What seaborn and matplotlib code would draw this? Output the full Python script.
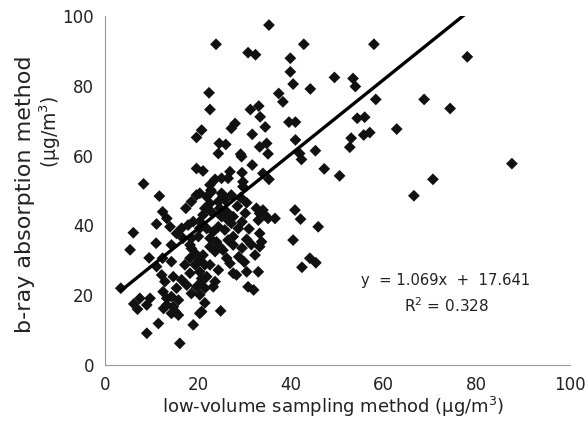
import matplotlib
matplotlib.use("Agg")
import matplotlib.pyplot as plt
import seaborn as sns
import numpy as np
import pandas as pd

# ---- data ----
low_volume = [
    35.3, 23.9, 42.8, 30.8, 32.4, 39.9, 39.9, 40.5, 44.2, 49.4, 53.4, 53.9, 22.4, 22.6, 37.4,
    38.3, 31.3, 33.1, 33.4, 34.5, 39.6, 41.0, 54.3, 55.9, 55.7, 57.0, 57.9, 78.0, 58.3, 68.7,
    74.3, 62.8, 28.0, 27.2, 20.8, 19.7, 31.7, 41.0, 45.3, 53.0, 52.7, 24.6, 26.0, 34.8, 33.3,
    29.2, 24.4, 47.2, 50.5, 70.6, 87.6, 66.5, 41.9, 42.3, 40.9, 42.1, 45.9, 40.5, 44.1, 45.4,
    42.4, 8.3, 11.7, 29.4, 31.7, 35.1, 29.5, 29.7, 34.0, 35.3, 26.9, 26.5, 25.1, 23.7, 22.8,
    19.7, 21.1, 19.7, 25.4, 27.2, 29.7,
    32.6, 34.0, 35.1, 36.6, 33.3, 33.0, 34.4, 33.3, 33.7, 22.6, 22.9, 21.9, 20.4, 25.1, 25.8,
    24.4, 22.6, 21.5, 22.9, 24.7, 26.2, 25.1, 26.5, 27.6, 21.1, 20.4, 21.9, 23.3, 24.4, 25.8,
    27.2, 28.7, 27.6, 26.5, 22.6, 24.0, 24.7, 22.6, 27.6,
    29.2, 30.5, 28.5, 30.2, 29.5, 31.0, 30.5, 29.5, 31.5, 28.8, 30.0,
    18.6, 17.4, 12.4, 13.3, 11.1, 6.1, 5.4, 11.0, 14.0, 15.4, 16.5, 17.9, 19.0, 20.4, 16.8,
    18.6, 20.1, 18.3, 14.3,
    9.5, 3.4, 12.4, 14.3, 11.1, 12.2, 6.2, 7.0, 9.0, 9.7, 7.5, 11.5, 9.0, 15.8, 15.1,
    16.1, 19.0, 20.4, 13.3, 14.7, 15.8, 14.3, 13.3, 12.5, 18.6, 17.6, 15.4, 16.5, 19.7, 20.8,
    20.4, 19.4, 18.3, 17.2, 14.7, 12.9, 18.3, 19.4, 18.6, 20.4, 21.1, 21.5, 20.8,
    21.5, 21.9, 20.8, 21.5, 20.4,
    23.7, 25.4, 26.2, 26.9, 24.4, 22.6, 23.7, 23.3, 27.6, 28.3, 30.5, 33.0, 32.3, 33.3, 30.8,
    32.0, 24.9, 14.3, 12.6,
]
beta_ray = [
    97.4, 91.9, 91.9, 89.5, 88.9, 87.9, 84.0, 80.5, 79.1, 82.4, 82.1, 79.8, 78.0, 73.2, 77.8,
    75.4, 73.2, 74.2, 71.1, 68.2, 69.6, 69.6, 70.7, 71.0, 65.9, 66.6, 91.9, 88.3, 76.1, 76.1,
    73.5, 67.6, 69.2, 67.8, 67.3, 65.2, 66.1, 64.5, 61.4, 65.0, 62.4, 63.5, 63.2, 63.5, 62.5,
    60.4, 60.6, 56.2, 54.2, 53.2, 57.7, 48.5, 60.6, 58.9, 44.4, 41.8, 39.6, 35.8, 30.6, 29.3,
    28.0, 51.9, 48.4, 59.7, 57.3, 60.5, 55.1, 52.5, 54.9, 53.2, 55.4, 53.5, 53.5, 53.2, 50.1,
    56.3, 55.6, 48.7, 48.4, 48.7, 51.1,
    44.9, 44.4, 42.0, 42.0, 43.4, 41.5, 43.0, 37.7, 35.3, 51.6, 49.6, 48.2, 49.2, 49.2, 47.3,
    46.8, 46.3, 44.9, 43.9, 44.9, 43.9, 42.5, 41.5, 42.5, 43.0, 41.1, 39.1, 38.2, 39.6, 38.7,
    40.6, 39.1, 36.8, 35.8, 36.3, 35.3, 33.9, 33.9, 34.4,
    48.0, 46.5, 45.5, 43.5, 41.0, 39.0, 36.0, 33.5, 34.5, 31.0, 29.5,
    46.8, 44.9, 43.9, 42.0, 40.4, 37.9, 33.0, 34.9, 39.6, 37.7, 39.2, 40.1, 41.1, 39.2, 36.3,
    36.3, 36.8, 34.4, 34.4,
    30.7, 22.0, 30.6, 29.6, 28.2, 25.8, 17.5, 16.0, 17.2, 19.1, 19.1, 11.9, 9.1, 14.3, 15.3,
    6.2, 11.5, 14.8, 17.2, 16.7, 18.6, 19.6, 19.1, 21.0, 20.5, 22.9, 22.0, 24.4, 22.4, 24.8,
    26.7, 28.7, 26.3, 28.7, 25.3, 23.9, 30.6, 32.0, 33.4, 30.1, 31.5, 17.8, 15.3,
    28.7, 25.3, 23.9, 22.0, 20.1,
    32.5, 32.9, 30.6, 29.1, 27.2, 28.7, 23.9, 22.4, 26.3, 25.8, 26.7, 26.7, 31.5, 33.9, 22.4,
    21.5, 15.5, 14.8, 16.2,
]
slope = 1.069
intercept = 17.641
r_squared = 0.328
axis_ticks = [0, 20, 40, 60, 80, 100]
x_label = "low-volume sampling method (µg/m$^3$)"
y_label_line1 = "b-ray absorption method"
y_label_line2 = "(µg/m$^3$)"

df = pd.DataFrame({"low": low_volume, "beta": beta_ray})
fit_x = [min(low_volume), max(low_volume)]
fit_df = pd.DataFrame({"low": fit_x, "beta": [slope * v + intercept for v in fit_x]})

sns.set_theme(style="white")
plt.rcParams["font.family"] = ["DejaVu Sans"]
plt.rcParams["mathtext.fontset"] = "dejavusans"

fig = plt.figure(figsize=(5.88, 4.36), dpi=100)
ax = fig.add_axes([105 / 588, 1 - 365 / 436, 464.5 / 588, 349 / 436])

sns.scatterplot(data=df, x="low", y="beta", marker="D", s=36, color="#111111",
                edgecolor="none", linewidth=0, ax=ax, zorder=3)
sns.lineplot(data=fit_df, x="low", y="beta", color="black", linewidth=2.4, ax=ax, zorder=4)

ax.set_xlim(0, 100)
ax.set_ylim(0, 100)
ax.set_xticks(axis_ticks)
ax.set_yticks(axis_ticks)
ax.set_xticklabels([str(t) for t in axis_ticks])
ax.set_yticklabels([str(t) for t in axis_ticks])
ax.tick_params(axis="both", direction="in", length=4, width=0.8, color="#999999",
               labelsize=12, labelcolor="#222222", pad=8)
for side in ["top", "right"]:
    ax.spines[side].set_visible(False)
for side in ["left", "bottom"]:
    ax.spines[side].set_color("#999999")
    ax.spines[side].set_linewidth(0.8)

ax.set_xlabel("")
ax.set_ylabel("")
fig.text(333 / 588, 1 - 407 / 436, x_label, ha="center", va="center", fontsize=13,
         color="#222222")
fig.text(25 / 588, 1 - 333 / 436, y_label_line1, ha="left", va="center", rotation=90,
         rotation_mode="anchor", fontsize=16, color="#222222")
fig.text(50 / 588, 1 - 132 / 436, y_label_line2, ha="center", va="center", rotation=90,
         fontsize=13.5, color="#222222")

fig.text(446 / 588, 1 - 280 / 436, f"y  = {slope}x  +  {intercept}", fontsize=10.6,
         color="#222222", ha="center", va="center")
fig.text(447 / 588, 1 - 306 / 436, f"R$^2$ = {r_squared}", fontsize=11,
         color="#222222", ha="center", va="center")

fig.savefig("out.png", dpi=100)
